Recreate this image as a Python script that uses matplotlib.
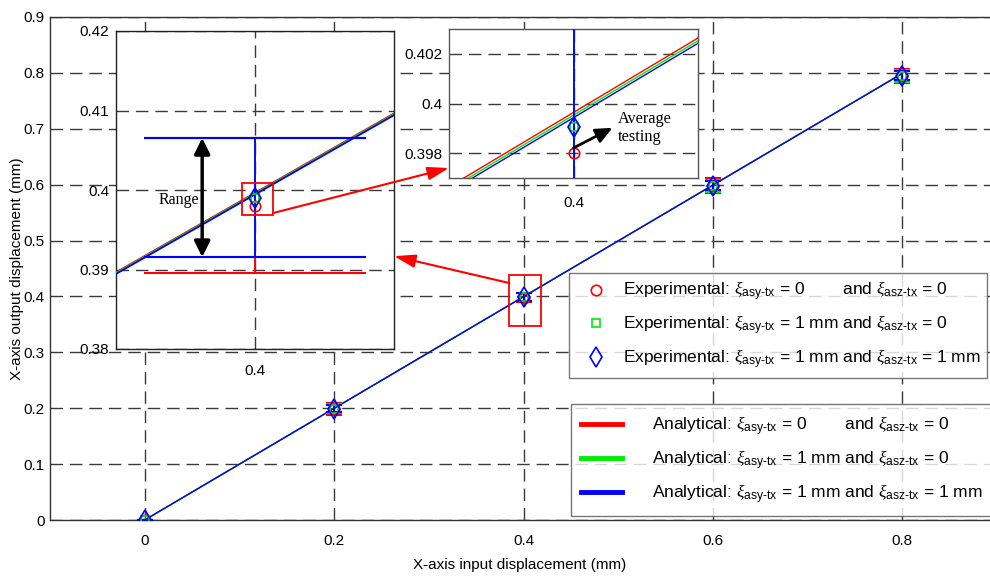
import matplotlib
matplotlib.use("Agg")
import matplotlib.pyplot as plt
from matplotlib.patches import Rectangle, FancyArrowPatch, ConnectionPatch, ArrowStyle

# ---------------- data ----------------
x_in = [0.0, 0.2, 0.4, 0.6, 0.8]

ana_red = [0.0, 0.19982, 0.39964, 0.59946, 0.79928]
ana_green = [0.0, 0.199765, 0.39953, 0.599295, 0.79906]
ana_blue = [0.0, 0.199715, 0.39943, 0.599145, 0.79886]

exp_red = [0.0, 0.1985, 0.3980, 0.5980, 0.7940]
exp_green = [0.0, 0.1988, 0.39905, 0.5981, 0.7945]
exp_blue = [0.0, 0.1990, 0.39905, 0.5983, 0.7950]

err_red = [0.0, 0.0105, 0.0085, 0.0135, 0.0125]
err_green = [0.0, 0.0080, 0.0075, 0.0105, 0.0100]
err_blue = [0.0, 0.0060, 0.0075, 0.0087, 0.0083]

x_ticks = [0, 0.2, 0.4, 0.6, 0.8]
x_ticklabels = ["0", "0.2", "0.4", "0.6", "0.8"]
y_ticks = [0, 0.1, 0.2, 0.3, 0.4, 0.5, 0.6, 0.7, 0.8, 0.9]
y_ticklabels = ["0", "0.1", "0.2", "0.3", "0.4", "0.5", "0.6", "0.7", "0.8", "0.9"]

in1_yticks = [0.38, 0.39, 0.40, 0.41, 0.42]
in1_yticklabels = ["0.38", "0.39", "0.4", "0.41", "0.42"]
in2_yticks = [0.398, 0.400, 0.402]
in2_yticklabels = ["0.398", "0.4", "0.402"]
in_xticks = [0.4]
in_xticklabels = ["0.4"]

XI_Y = r"$\xi_{\mathrm{asy\text{-}tx}}$"
XI_Z = r"$\xi_{\mathrm{asz\text{-}tx}}$"
exp_labels = [
    "Experimental: " + XI_Y + " = 0        and " + XI_Z + " = 0",
    "Experimental: " + XI_Y + " = 1 mm and " + XI_Z + " = 0",
    "Experimental: " + XI_Y + " = 1 mm and " + XI_Z + " = 1 mm",
]
ana_labels = [
    "Analytical: " + XI_Y + " = 0        and " + XI_Z + " = 0",
    "Analytical: " + XI_Y + " = 1 mm and " + XI_Z + " = 0",
    "Analytical: " + XI_Y + " = 1 mm and " + XI_Z + " = 1 mm",
]

# ---------------- style ----------------
plt.rcParams["font.family"] = ["Liberation Sans", "DejaVu Sans"]
plt.rcParams["mathtext.fontset"] = "custom"
plt.rcParams["mathtext.rm"] = "Liberation Sans"
plt.rcParams["mathtext.it"] = "Liberation Serif:italic"
plt.rcParams["mathtext.bf"] = "Liberation Sans:bold"

TFS = 11  # tick label font size
RED, GREEN, BLUE = "#ff0000", "#00ee00", "#0000ff"
GRID_C = "#3a3a3a"
DASH = (0, (9, 5))
MARKERS = ["o", "s", "d"]
MSIZES = [7.5, 6, 10.5]
COLORS = [RED, GREEN, BLUE]

W, H = 990, 581
fig = plt.figure(figsize=(W / 100, H / 100), dpi=100)


def fx(px):
    return px / W


def fy(py):
    return 1 - py / H


def style_axes(ax, spine_c="#333333"):
    for s in ax.spines.values():
        s.set_color(spine_c)
        s.set_linewidth(1.0)
    ax.grid(True, color=GRID_C, linestyle=DASH, linewidth=1.0)
    ax.set_axisbelow(True)


def draw_series(ax, lw_line, elw, capsize):
    lines = []
    for ya, c in zip([ana_red, ana_green, ana_blue], COLORS):
        l, = ax.plot(x_in, ya, color=c, lw=lw_line, zorder=3)
        lines.append(l)
    for ye, er, c in zip([exp_red, exp_green, exp_blue],
                         [err_red, err_green, err_blue], COLORS):
        ax.errorbar(x_in, ye, yerr=er, fmt="none", ecolor=c, elinewidth=elw,
                    capsize=capsize, capthick=1.5, zorder=4)
    marks = []
    for ye, c, mk, ms in zip([exp_red, exp_green, exp_blue], COLORS, MARKERS, MSIZES):
        h, = ax.plot(x_in, ye, linestyle="none", marker=mk, ms=ms, mfc="none",
                     mec=c, mew=1.2, zorder=5)
        marks.append(h)
    return lines, marks


# ---------------- main axes ----------------
ax = fig.add_axes([fx(50), fy(520), fx(997) - fx(50), fy(17) - fy(520)])
style_axes(ax)
ax.set_xlim(-0.1, 0.9)
ax.set_ylim(0, 0.9)
ax.set_xticks(x_ticks)
ax.set_xticklabels(x_ticklabels, fontsize=TFS)
ax.set_yticks(y_ticks)
ax.set_yticklabels(y_ticklabels, fontsize=TFS)
ax.tick_params(axis="x", length=0, pad=10)
ax.tick_params(axis="y", length=0, pad=4)
ax.set_xlabel("X-axis input displacement (mm)", fontsize=11)
ax.xaxis.set_label_coords((520 - 50) / 947, -(558 - 520) / 503)
ax.set_ylabel("X-axis output displacement (mm)", fontsize=11)
ax.yaxis.set_label_coords(-(50 - 24) / 947, 0.5)

ana_lines, exp_handles = draw_series(ax, 1.0, 1.5, 5.8)

# red box around the 0.4 point on the main chart
ax.add_patch(Rectangle((0.385, 0.348), 0.033, 0.090, fill=False, ec=RED, lw=1.3, zorder=6))

# legends
leg1 = ax.legend(exp_handles, exp_labels, loc="upper left",
                 bbox_to_anchor=(fx(569), fy(273)), bbox_transform=fig.transFigure,
                 borderaxespad=0, fontsize=12.5, frameon=True, fancybox=False,
                 edgecolor="#555555", borderpad=0.4, handlelength=2.3,
                 handletextpad=0.4, labelspacing=0.6)
leg1.get_frame().set_linewidth(1.0)
ax.add_artist(leg1)
leg2 = ax.legend(ana_lines, ana_labels, loc="upper left",
                 bbox_to_anchor=(fx(571), fy(404)), bbox_transform=fig.transFigure,
                 borderaxespad=0, fontsize=12.5, frameon=True, fancybox=False,
                 edgecolor="#555555", borderpad=0.6, handlelength=2.36,
                 handletextpad=1.7, labelspacing=0.62)
leg2.get_frame().set_linewidth(1.0)
for l in leg2.get_lines():
    l.set_linewidth(3.5)

# ---------------- inset 1 ----------------
ax1 = fig.add_axes([fx(116), fy(349), fx(394) - fx(116), fy(31) - fy(349)], zorder=5)
ax1.set_facecolor("white")
style_axes(ax1, "#222222")
ax1.set_xlim(0.39, 0.41)
ax1.set_ylim(0.38, 0.42)
ax1.set_xticks(in_xticks)
ax1.set_xticklabels(in_xticklabels, fontsize=TFS)
ax1.set_yticks(in1_yticks)
ax1.set_yticklabels(in1_yticklabels, fontsize=TFS)
ax1.tick_params(axis="x", length=0, pad=11)
ax1.tick_params(axis="y", length=0, pad=5)
draw_series(ax1, 1.3, 1.3, 80)
ax1.add_patch(Rectangle((0.3991, 0.3968), 0.0022, 0.0041, fill=False, ec=RED, lw=1.3, zorder=6))
# range arrow
rx = 0.3962
ax1.add_patch(FancyArrowPatch((rx, exp_blue[2] - err_blue[2]), (rx, exp_blue[2] + err_blue[2]),
                              arrowstyle=ArrowStyle("<|-|>", head_length=0.95, head_width=0.47),
                              mutation_scale=10, color="black", lw=2.5, zorder=7,
                              shrinkA=0, shrinkB=0))
ax1.text(0.39599, 0.39872, "Range", family=["Liberation Serif"], fontsize=11.5,
         ha="right", va="center", zorder=7)

# ---------------- inset 2 ----------------
ax2 = fig.add_axes([fx(449), fy(178), fx(698) - fx(449), fy(29) - fy(178)], zorder=5)
ax2.set_facecolor("white")
style_axes(ax2, "#555555")
ax2.set_xlim(0.397, 0.403)
ax2.set_ylim(0.397, 0.403)
ax2.set_xticks(in_xticks)
ax2.set_xticklabels(in_xticklabels, fontsize=TFS)
ax2.set_yticks(in2_yticks)
ax2.set_yticklabels(in2_yticklabels, fontsize=TFS)
ax2.tick_params(axis="x", length=0, pad=13)
ax2.tick_params(axis="y", length=0, pad=5)
draw_series(ax2, 1.0, 1.3, 5)
ax2.add_patch(FancyArrowPatch((0.4, 0.39821), (0.40094, 0.39902),
                              arrowstyle=ArrowStyle("-|>", head_length=1.0, head_width=0.45),
                              mutation_scale=10, color="black", lw=2.0, zorder=7,
                              shrinkA=0, shrinkB=0))
ax2.text(0.40106, 0.39902, "Average\ntesting", family=["Liberation Serif"], fontsize=11.7,
         ha="left", va="center", linespacing=1.2, zorder=7)

# ---------------- red connector arrows ----------------
con1 = ConnectionPatch(xyA=(0.4013, 0.3971), coordsA=ax1.transData,
                       xyB=(0.0, 0.067), coordsB=ax2.transAxes,
                       arrowstyle=ArrowStyle("-|>", head_length=1.3, head_width=0.4),
                       mutation_scale=10, color=RED, lw=1.5, shrinkA=0, shrinkB=0)
con1.set_zorder(20)
fig.add_artist(con1)
con2 = ConnectionPatch(xyA=(0.385, 0.424), coordsA=ax.transData,
                       xyB=(1.0, 0.292), coordsB=ax1.transAxes,
                       arrowstyle=ArrowStyle("-|>", head_length=1.3, head_width=0.4),
                       mutation_scale=10, color=RED, lw=1.5, shrinkA=0, shrinkB=0)
con2.set_zorder(20)
fig.add_artist(con2)

fig.savefig("out.png", dpi=100)
